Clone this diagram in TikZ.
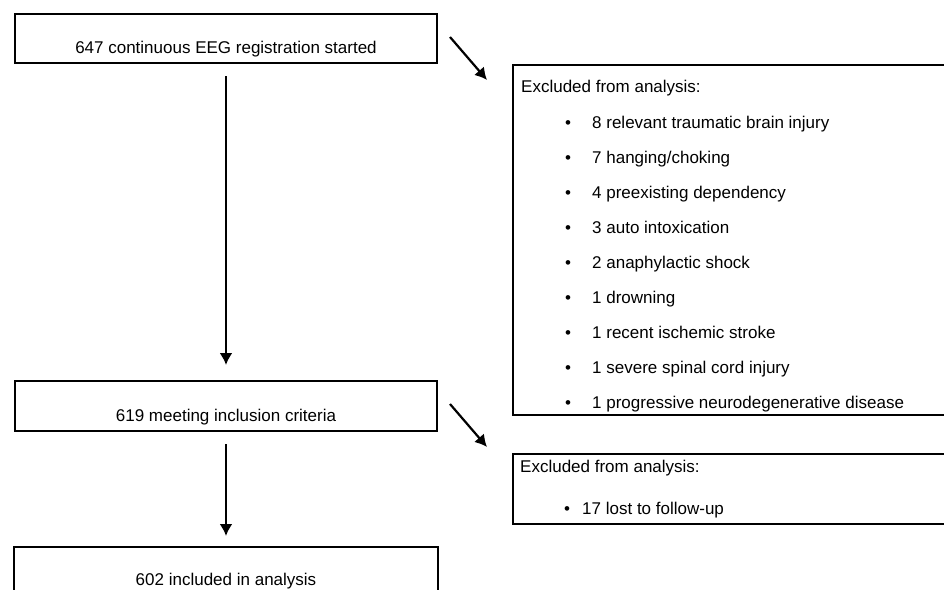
\documentclass[tikz,border=0pt]{standalone}
\usepackage{fontspec}
\setmainfont{Liberation Sans}
\usetikzlibrary{arrows.meta}

\begin{document}
\begin{tikzpicture}[x=1pt,y=-1pt,
    every node/.style={font=\fontsize{17}{20}\selectfont},
    box/.style={draw,line width=2pt,inner sep=0pt,anchor=base},
    exbox/.style={draw,line width=2pt,anchor=north west,minimum width=460pt,inner sep=0pt},
    line/.style={anchor=base west,inner sep=0pt},
    arr/.style={line width=2.2pt,-{Latex[length=12pt,width=13pt]}}]
    \useasboundingbox (0,0) rectangle (944,589);
    \clip (0,0) rectangle (944,589);
    \node[box,minimum width=422pt,text height=39pt,text depth=10pt] (start) at (226,53) {647 continuous EEG registration started};
    \node[box,minimum width=422pt,text height=40pt,text depth=10pt] (incl) at (226,421) {619 meeting inclusion criteria};
    \node[box,minimum width=424pt,text height=38pt,text depth=40pt] (anal) at (226,585) {602 included in analysis};
    \node[exbox,minimum height=350pt] (ex1) at (512,64) {};
    \node[exbox,minimum height=70pt] (ex2) at (512,453) {};
    \node[line] (head1) at (521,92) {Excluded from analysis:};
    \foreach \t [count=\i from 0] in {8 relevant traumatic brain injury, 7 hanging/choking,
        4 preexisting dependency, 3 auto intoxication, 2 anaphylactic shock, 1 drowning,
        1 recent ischemic stroke, 1 severe spinal cord injury,
        1 progressive neurodegenerative disease} {
        \node[anchor=base,inner sep=0pt] (dot\i) at (568,{128+35*\i}) {•};
        \node[line] (item\i) at (592,{128+35*\i}) {\t};
    }
    \node[line] (head2) at (520,472) {Excluded from analysis:};
    \node[anchor=base,inner sep=0pt] (dot) at (567,514) {•};
    \node[line] (lost) at (582,514) {17 lost to follow-up};
    \draw[arr] ([yshift=-12pt]start.south) -- ([yshift=15pt]incl.north);
    \draw[arr] ([yshift=-12pt]incl.south) -- ([yshift=10pt]anal.north);
    \draw[arr] ([xshift=12pt,yshift=-24pt]start.north east) -- ([xshift=-25pt,yshift=-16pt]ex1.north west);
    \draw[arr] ([xshift=12pt,yshift=-24pt]incl.north east) -- ([xshift=-25pt,yshift=6pt]ex2.north west);
\end{tikzpicture}
\end{document}
